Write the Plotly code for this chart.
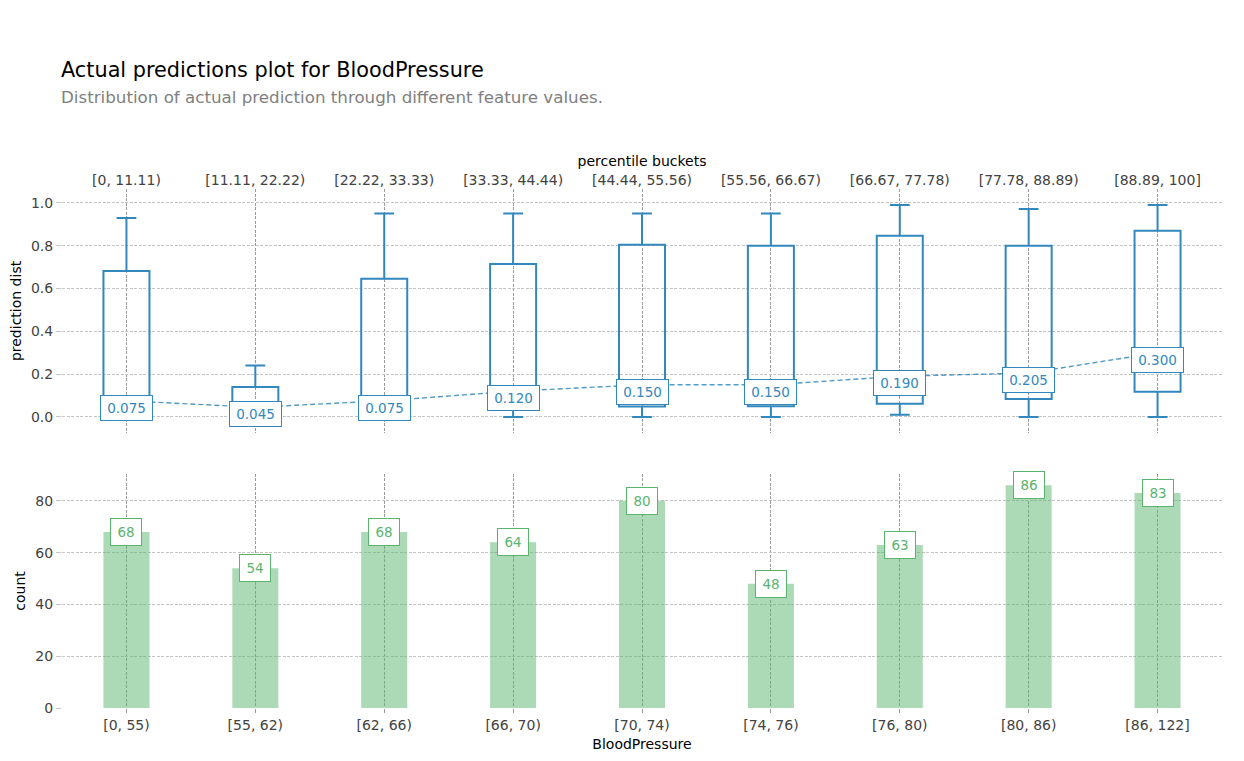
import plotly.graph_objects as go
from plotly.subplots import make_subplots

# percentile buckets (top axis) and feature buckets (bottom axis)
pct_buckets = ["[0, 11.11)", "[11.11, 22.22)", "[22.22, 33.33)", "[33.33, 44.44)",
               "[44.44, 55.56)", "[55.56, 66.67)", "[66.67, 77.78)", "[77.78, 88.89)",
               "[88.89, 100]"]
bp_buckets = ["[0, 55)", "[55, 62)", "[62, 66)", "[66, 70)", "[70, 74)",
              "[74, 76)", "[76, 80)", "[80, 86)", "[86, 122]"]

# box stats of actual predictions per bucket
low_whisker = [0.0, 0.0, 0.0, 0.0, 0.0, 0.0, 0.01, 0.0, 0.0]
q1 = [0.03, 0.01, 0.03, 0.04, 0.048, 0.05, 0.061, 0.084, 0.117]
median = [0.075, 0.045, 0.075, 0.120, 0.150, 0.150, 0.190, 0.205, 0.300]
q3 = [0.682, 0.14, 0.645, 0.715, 0.804, 0.80, 0.846, 0.80, 0.87]
high_whisker = [0.93, 0.24, 0.95, 0.95, 0.95, 0.95, 0.99, 0.972, 0.99]

# counts per feature bucket
counts = [68, 54, 68, 64, 80, 48, 63, 86, 83]

blue = "#3288bd"
green = "rgb(90,180,110)"

fig = make_subplots(rows=2, cols=1)

fig.add_trace(go.Box(
    x=pct_buckets, q1=q1, median=median, q3=q3,
    lowerfence=low_whisker, upperfence=high_whisker,
    width=0.357, whiskerwidth=0.43,
    line=dict(color=blue, width=2), fillcolor="rgba(0,0,0,0)",
    boxpoints=False, hoverinfo="skip",
), row=1, col=1)

fig.add_trace(go.Scatter(
    x=pct_buckets, y=median, mode="lines",
    line=dict(color="rgba(50,136,189,0.85)", width=1.4, dash="5px,3px"),
), row=1, col=1)

fig.add_trace(go.Bar(
    x=bp_buckets, y=counts, width=0.357,
    marker=dict(color="rgba(90,180,110,0.5)", line_width=0),
), row=2, col=1)

for b, m in zip(pct_buckets, median):
    fig.add_annotation(x=b, y=m, xref="x", yref="y", text=f"{m:.3f}",
                       showarrow=False, yshift=-7, width=47, height=20,
                       font=dict(color=blue, size=13.5),
                       bgcolor="white", bordercolor=blue, borderwidth=1, borderpad=2)

for b, c in zip(bp_buckets, counts):
    fig.add_annotation(x=b, y=c, xref="x2", yref="y2", text=str(c),
                       showarrow=False, width=26, height=22,
                       font=dict(color=green, size=13.5),
                       bgcolor="white", bordercolor=green, borderwidth=1, borderpad=2)

fig.add_annotation(x=0, y=1.229, xref="paper", yref="paper", xanchor="left", yanchor="middle",
                   xshift=-3, text="Actual predictions plot for BloodPressure", showarrow=False,
                   font=dict(size=20.8, color="black"))
fig.add_annotation(x=0, y=1.177, xref="paper", yref="paper", xanchor="left", yanchor="middle",
                   xshift=-3,
                   text="Distribution of actual prediction through different feature values.",
                   showarrow=False, font=dict(size=16.7, color="grey"))

grid_x = dict(showgrid=True, gridcolor="#9a9a9a", griddash="3px,1.5px", gridwidth=0.8,
              showline=False, zeroline=False, automargin=False,
              tickfont=dict(size=14, color="#424242"))
grid_y = dict(showgrid=True, gridcolor="#c4c4c4", griddash="3px,1.5px", gridwidth=0.8,
              showline=False, zeroline=False, automargin=False,
              ticks="outside", ticklen=5, tickcolor="#c4c4c4",
              tickfont=dict(size=14, color="#424242"))

fig.update_layout(
    width=1244, height=761,
    margin=dict(l=54, r=30, t=181, b=61),
    plot_bgcolor="white", paper_bgcolor="white",
    showlegend=False,
    font=dict(family="DejaVu Sans", size=14, color="black"),
    xaxis=dict(grid_x, domain=[0, 1], side="top", range=[-0.5, 8.5],
               title=dict(text="percentile buckets", font=dict(size=14), standoff=2)),
    yaxis=dict(grid_y, domain=[0.530, 1], range=[-0.075, 1.065], tickformat=".1f",
               dtick=0.2, title=dict(text="prediction dist", font=dict(size=14), standoff=6)),
    xaxis2=dict(grid_x, domain=[0, 1], range=[-0.5, 8.5], ticks="outside", ticklen=4,
                tickcolor="#9a9a9a",
                title=dict(text="BloodPressure", font=dict(size=14), standoff=7)),
    yaxis2=dict(grid_y, domain=[0, 0.451], range=[0, 90.4], dtick=20,
                title=dict(text="count", font=dict(size=14), standoff=6)),
)

fig.write_html("out.html")
